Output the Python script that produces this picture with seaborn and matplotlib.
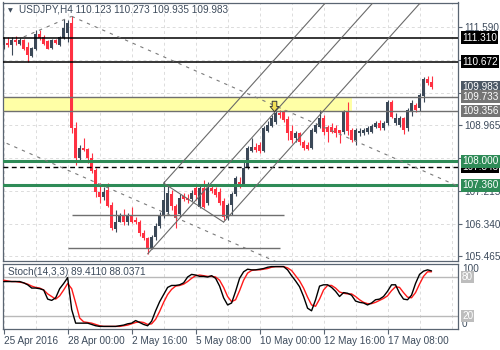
import numpy as np
import pandas as pd
import matplotlib
matplotlib.use("Agg")
import matplotlib.pyplot as plt
import matplotlib.transforms as mtransforms
from matplotlib.path import Path
from matplotlib.patches import Rectangle
import seaborn as sns

# ---------------- data ----------------
symbol = "USDJPY,H4"
first_bar = "2016-04-25 08:00"

opens = [111.11, 111.17, 111.11, 111.25, 111.15, 111.25, 111.06, 110.82, 111.02, 111.42,
         111.33, 111.22, 111.04, 111.26, 111.11, 111.31, 111.43, 111.70, 108.89, 108.09,
         108.36, 108.33, 108.09, 107.77, 107.18, 107.05, 107.24, 106.83, 106.19, 106.38,
         106.57, 106.38, 106.54, 106.43, 106.38, 106.09, 105.95, 105.69, 105.98, 106.27,
         106.54, 106.65, 107.13, 106.81, 106.59, 107.07, 107.02, 106.99, 107.29, 106.78,
         107.29, 106.89, 107.29, 107.26, 107.18, 106.94, 106.49, 106.83, 107.13, 107.45,
         107.40, 107.82, 108.28, 108.38, 108.44, 108.28, 108.81, 108.94, 109.05, 109.29,
         109.32, 109.13, 108.81, 108.62, 108.76, 108.52, 108.44, 108.36, 108.78, 108.92,
         109.16, 108.92, 108.92, 108.89, 108.84, 108.78, 109.32, 108.84, 108.57, 108.76,
         108.76, 108.78, 108.78, 108.92, 109.02, 108.89, 109.02, 109.58, 109.02, 108.97,
         109.16, 108.89, 109.32, 109.50, 109.42, 109.74, 110.20, 110.123]
highs = [111.33, 111.33, 111.33, 111.35, 111.29, 111.28, 111.19, 111.06, 111.51, 111.51,
         111.37, 111.26, 111.28, 111.28, 111.35, 111.82, 111.77, 111.88, 109.05, 108.44,
         108.62, 108.36, 108.22, 107.82, 107.42, 107.32, 107.42, 106.91, 106.70, 106.62,
         106.73, 106.62, 106.78, 106.51, 106.43, 106.17, 105.98, 106.03, 106.35, 106.65,
         107.47, 107.34, 107.24, 106.86, 107.13, 107.15, 107.13, 107.24, 107.34, 107.34,
         107.50, 107.45, 107.37, 107.32, 107.29, 107.02, 106.89, 107.18, 107.61, 107.58,
         107.98, 108.41, 108.62, 108.49, 108.52, 108.94, 109.08, 109.24, 109.37, 109.37,
         109.37, 109.21, 108.97, 108.81, 108.78, 108.57, 108.52, 108.89, 109.02, 109.37,
         109.24, 108.97, 109.02, 108.97, 108.84, 109.37, 109.58, 108.89, 108.89, 108.89,
         108.89, 108.94, 109.00, 109.08, 109.10, 109.08, 109.64, 109.64, 109.29, 109.21,
         109.18, 109.42, 109.64, 109.56, 109.82, 110.25, 110.28, 110.273]
lows = [111.02, 111.06, 110.84, 111.11, 111.11, 110.99, 110.66, 110.79, 110.99, 111.26,
        111.12, 111.00, 111.02, 111.14, 111.09, 111.28, 111.19, 108.76, 107.90, 108.04,
        108.28, 107.96, 107.69, 107.05, 106.89, 106.97, 106.78, 106.17, 106.11, 106.37,
        106.30, 106.30, 106.35, 106.33, 106.01, 105.90, 105.53, 105.66, 105.90, 106.22,
        106.49, 106.57, 106.70, 106.22, 106.51, 106.94, 106.89, 106.94, 106.97, 106.75,
        106.75, 106.83, 107.15, 107.05, 106.83, 106.43, 106.43, 106.57, 107.07, 107.29,
        107.34, 107.80, 108.25, 108.25, 108.22, 108.25, 108.78, 108.92, 109.00, 109.16,
        109.05, 108.57, 108.49, 108.52, 108.44, 108.30, 108.30, 108.33, 108.76, 108.89,
        108.70, 108.52, 108.76, 108.65, 108.49, 108.73, 108.70, 108.52, 108.44, 108.68,
        108.70, 108.73, 108.76, 108.89, 108.84, 108.84, 108.97, 109.16, 108.97, 108.92,
        108.73, 108.81, 109.21, 109.32, 109.34, 109.58, 110.04, 109.935]
closes = [111.29, 111.12, 111.24, 111.19, 111.24, 111.02, 110.84, 111.03, 111.42, 111.31,
          111.15, 111.02, 111.26, 111.17, 111.33, 111.58, 111.70, 108.89, 108.09, 108.36,
          108.30, 108.09, 107.74, 107.18, 107.05, 107.18, 106.81, 106.22, 106.38, 106.57,
          106.38, 106.57, 106.38, 106.37, 106.09, 105.95, 105.66, 105.98, 106.27, 106.54,
          106.97, 107.15, 106.81, 106.49, 107.02, 106.99, 106.97, 107.15, 107.10, 107.29,
          106.78, 107.29, 107.21, 107.10, 106.89, 106.51, 106.83, 107.13, 107.56, 107.37,
          107.82, 108.36, 108.38, 108.30, 108.28, 108.89, 108.97, 109.16, 109.29, 109.24,
          109.10, 108.76, 108.57, 108.76, 108.52, 108.36, 108.33, 108.84, 108.97, 109.16,
          108.78, 108.78, 108.78, 108.76, 108.76, 109.32, 108.81, 108.57, 108.84, 108.81,
          108.84, 108.89, 108.94, 109.02, 108.89, 109.02, 109.58, 109.18, 109.16, 109.16,
          108.84, 109.37, 109.56, 109.37, 109.77, 110.20, 110.09, 109.983]

stoch_k = [73, 73, 73, 73, 73, 71, 68, 63, 63, 62, 60, 46, 44, 48, 62, 70, 79, 30, 9, 9,
           9, 9, 7, 5, 4, 4, 4, 4, 4, 5, 6, 8, 9, 13, 10, 7, 5, 12, 28, 42,
           53, 64, 67, 67, 68, 71, 80, 84, 83, 81, 81, 80, 82, 78, 66, 48, 37, 40, 58, 78,
           88, 92, 91, 91, 92, 93, 95, 96, 96, 96, 96, 91, 82, 74, 65, 50, 32, 28, 45, 66,
           68, 68, 64, 58, 50, 56, 55, 52, 43, 41, 40, 37, 40, 45, 46, 50, 58, 68, 68, 55,
           46, 45, 52, 70, 84, 89, 91, 89.4110]
stoch_d = [75, 74, 73, 73, 72, 71, 69, 66, 64, 63, 60, 54, 50, 46, 51, 60, 70, 62, 40, 17,
           11, 10, 9, 7, 5, 4, 4, 4, 4, 4, 5, 6, 8, 10, 11, 10, 7, 8, 15, 27,
           41, 53, 61, 66, 67, 69, 73, 78, 82, 83, 82, 81, 81, 80, 75, 64, 50, 42, 45, 59,
           75, 86, 90, 91, 91, 92, 93, 95, 96, 96, 96, 94, 90, 82, 74, 63, 49, 37, 35, 46,
           60, 67, 67, 63, 57, 55, 54, 54, 50, 45, 41, 39, 39, 41, 44, 47, 51, 59, 65, 64,
           56, 49, 48, 56, 69, 81, 88, 88.0371]

tick_times = ["2016-04-25 08:00", "2016-04-28 00:00", "2016-05-02 16:00", "2016-05-05 08:00",
              "2016-05-10 00:00", "2016-05-12 16:00", "2016-05-17 08:00"]
tick_labels = ["25 Apr 2016", "28 Apr 00:00", "2 May 16:00", "5 May 08:00",
               "10 May 00:00", "12 May 16:00", "17 May 08:00"]

# horizontal levels: price, colour, width, style
levels = [(111.310, "black", 1.1, "-"),
          (110.672, "black", 1.1, "-"),
          (109.733, "#6f6f6f", 1.0, "-"),
          (109.356, "#6f6f6f", 1.0, "-"),
          (108.000, "#2e8b57", 2.2, "-"),
          (107.848, "black", 1.0, (0, (3.5, 2.5))),
          (107.360, "#2e8b57", 2.2, "-")]
# short support segments: first bar, last bar, price
segments = [(17, 70, 106.56), (16, 69, 105.69)]
zone_low, zone_high, zone_end = 109.356, 109.733, 87
# descending channel anchors (bar, price)
chan_upper = [(17, 111.88), (70, 109.39)]
chan_left = [(5, 111.33), (17, 111.88)]
chan_lower = [(0, 108.52), (36, 106.83)]
# pitchfork pivots (bar, price)
pf_p1, pf_p2, pf_p3 = (36, 105.53), (40, 107.42), (55, 106.38)
arrow_bar, arrow_price = 67.6, 109.47

# price scale grid; only the scale labels not covered by price tags are printed
price_ticks = [105.465, 106.340, 107.215, 108.090, 108.965, 109.840, 110.715, 111.590]
price_tick_shown = [105.465, 106.340, 107.215, 108.965, 111.590]

# ---------------- styling ----------------
sns.set_theme(style="white")
plt.rcParams["font.family"] = ["Liberation Sans", "DejaVu Sans"]
TXT = "#3d4b5c"
BULL = "#3b4857"
BEAR = "#ff3142"
GRID = "#dcdcdc"
SPINE = "#5a6572"
FS = 7.2

n = len(opens)
times = pd.date_range(first_bar, periods=200, freq="4h")
times = times[times.dayofweek < 5][:n]
df = pd.DataFrame(dict(bar=np.arange(n), time=times, open=opens, high=highs,
                       low=lows, close=closes, k=stoch_k, d=stoch_d))
tick_pos = [int(times.get_loc(pd.Timestamp(t))) for t in tick_times]

W, H = 500, 350
fig = plt.figure(figsize=(W / 100, H / 100), dpi=100)


def rect(x0, y0, x1, y1):
    return [x0 / W, 1 - y1 / H, (x1 - x0) / W, (y1 - y0) / H]


ax = fig.add_axes(rect(2.5, 2.5, 457.5, 261))
axs = fig.add_axes(rect(2.5, 264, 457.5, 329))
XLIM = (-0.3, 113.5)

for a in (ax, axs):
    a.set_xlim(*XLIM)
    for s in a.spines.values():
        s.set_color(SPINE)
        s.set_linewidth(0.9)
    a.set_facecolor("white")

ax.set_ylim(105.34, 112.25)
ax.yaxis.tick_right()
ax.set_yticks(price_ticks)
ax.set_yticklabels([f"{p:.3f}" if p in price_tick_shown else "" for p in price_ticks])
ax.tick_params(axis="y", length=3, width=0.8, color=SPINE, pad=1.8,
               labelsize=FS, labelcolor=TXT, right=True)
ax.set_xticks(np.arange(0, 114, 8))
ax.tick_params(axis="x", length=0, labelbottom=False)
ax.grid(True, color=GRID, lw=0.7, ls=(0, (3, 3)))
ax.set_axisbelow(True)

# zone and levels
ax.add_patch(Rectangle((XLIM[0] - 1, zone_low), zone_end - XLIM[0] + 1, zone_high - zone_low,
                       facecolor="#ffffa6", edgecolor="none", zorder=1))
for p, c, w, ls in levels:
    ax.axhline(p, color=c, lw=w, ls=ls, zorder=4)
for b0, b1, p in segments:
    ax.hlines(p, b0, b1, color="#6f6f6f", lw=1.0, zorder=4)


def ray(a, b, x_start=None, x_end=XLIM[1] + 1):
    (x0, y0), (x1, y1) = a, b
    slope = (y1 - y0) / (x1 - x0)
    xs = x0 if x_start is None else x_start
    return [xs, x_end], [y0 + slope * (xs - x0), y0 + slope * (x_end - x0)]


dot = dict(color="#7a7a7a", lw=0.8, ls=(0, (3, 4.5)), zorder=4)
xs, ys = ray(*chan_upper)
ax.plot(xs, ys, **dot)
ax.plot([chan_left[0][0], chan_left[1][0]], [chan_left[0][1], chan_left[1][1]], **dot)
xs, ys = ray(*chan_lower, x_start=XLIM[0] - 1)
ax.plot(xs, ys, **dot)

# Andrews pitchfork
mid = ((pf_p2[0] + pf_p3[0]) / 2, (pf_p2[1] + pf_p3[1]) / 2)
pf_slope = (mid[1] - pf_p1[1]) / (mid[0] - pf_p1[0])
fork = dict(color="#6a6a6a", lw=0.8, zorder=4)
for px, py in (pf_p1, pf_p2, pf_p3):
    ax.plot([px, XLIM[1] + 1], [py, py + pf_slope * (XLIM[1] + 1 - px)], **fork)
ax.plot([pf_p2[0], pf_p3[0]], [pf_p2[1], pf_p3[1]], **fork)

# candles
up = df["close"] >= df["open"]
cols = np.where(up, BULL, BEAR)
ax.vlines(df["bar"], df["low"], df["high"], colors=cols, lw=0.8, zorder=3)
body = (df["close"] - df["open"]).abs().clip(lower=0.012)
ax.bar(df["bar"], body, bottom=np.minimum(df["open"], df["close"]), width=0.72,
       color=cols, lw=0, zorder=3)

# marker arrow
arrow = Path([(-0.22, 0.5), (0.22, 0.5), (0.22, 0.0), (0.42, 0.0), (0.0, -0.5),
              (-0.42, 0.0), (-0.22, 0.0), (-0.22, 0.5)],
             [Path.MOVETO] + [Path.LINETO] * 6 + [Path.CLOSEPOLY])
ax.plot([arrow_bar], [arrow_price], marker=arrow, ms=7.5, mfc="#f2df55", mec="#3a3a3a",
        mew=0.7, ls="none", zorder=6)

# price tags on the right
tag_tr = mtransforms.blended_transform_factory(ax.transAxes, ax.transData)
tags = [(111.310, "black", 5), (110.672, "black", 5), (closes[-1], "#4c5865", 5),
        (109.733, "#757575", 5), (109.356, "#757575", 5), (107.848, "black", 5),
        (108.000, "#2e8b57", 6), (107.360, "#2e8b57", 6)]
for p, c, z in tags:
    ax.text(1.0 + 4.5 / 455, p, f"{p:.3f}", transform=tag_tr, ha="left", va="center",
            fontsize=FS, color="white", zorder=z, clip_on=False,
            bbox=dict(boxstyle="square,pad=0.12", fc=c, ec="none"))

fig.text(7.5 / W, 1 - 10.5 / H, "\u25bc", fontsize=4.5, color=TXT, va="center",
         family="DejaVu Sans")
fig.text(19 / W, 1 - 10 / H, f"{symbol} {opens[-1]:.3f} {highs[-1]:.3f} {lows[-1]:.3f} {closes[-1]:.3f}",
         fontsize=FS, color=TXT, va="center")

# stochastic oscillator
axs.set_ylim(0, 100)
axs.axhline(80, color="#b9b9b9", lw=1.0, zorder=1)
axs.axhline(20, color="#b9b9b9", lw=1.0, zorder=1)
sns.lineplot(data=df, x="bar", y="d", color="#ff1a1a", lw=1.0, ax=axs, zorder=3)
sns.lineplot(data=df, x="bar", y="k", color="black", lw=1.0, ax=axs, zorder=4)
axs.set_xlim(*XLIM)
axs.set_ylim(0, 100)
axs.set_xlabel("")
axs.set_ylabel("")
axs.set_yticks([])
axs.set_xticks(tick_pos)
axs.set_xticks(np.arange(0, 114, 8), minor=True)
axs.set_xticklabels(tick_labels, ha="left")
axs.tick_params(axis="x", which="major", length=3.5, width=0.8, color=SPINE, pad=1.5,
                labelsize=FS, labelcolor=TXT, bottom=True)
axs.tick_params(axis="x", which="minor", length=0)
axs.grid(True, which="both", axis="x", color=GRID, lw=0.7, ls=(0, (3, 3)))
axs.set_axisbelow(True)
axs.text(6 / 455, 0.87, f"Stoch(14,3,3) {stoch_k[-1]:.4f} {stoch_d[-1]:.4f}",
         transform=axs.transAxes, fontsize=FS, color=TXT, va="center")

st_tr = mtransforms.blended_transform_factory(axs.transAxes, axs.transData)
axs.text(1.0 + 4.5 / 455, 100, "100", transform=st_tr, ha="left", va="top",
         fontsize=FS, color=TXT, clip_on=False)
axs.text(1.0 + 4.5 / 455, 0, "0", transform=st_tr, ha="left", va="bottom",
         fontsize=FS, color=TXT, clip_on=False)
for v in (80, 20):
    axs.text(1.0 + 4.5 / 455, v, f"{v}", transform=st_tr, ha="left", va="center",
             fontsize=FS, color="white", clip_on=False, zorder=5,
             bbox=dict(boxstyle="square,pad=0.1", fc="#bdbdbd", ec="none"))

fig.savefig("out.png", dpi=100, facecolor="white")
